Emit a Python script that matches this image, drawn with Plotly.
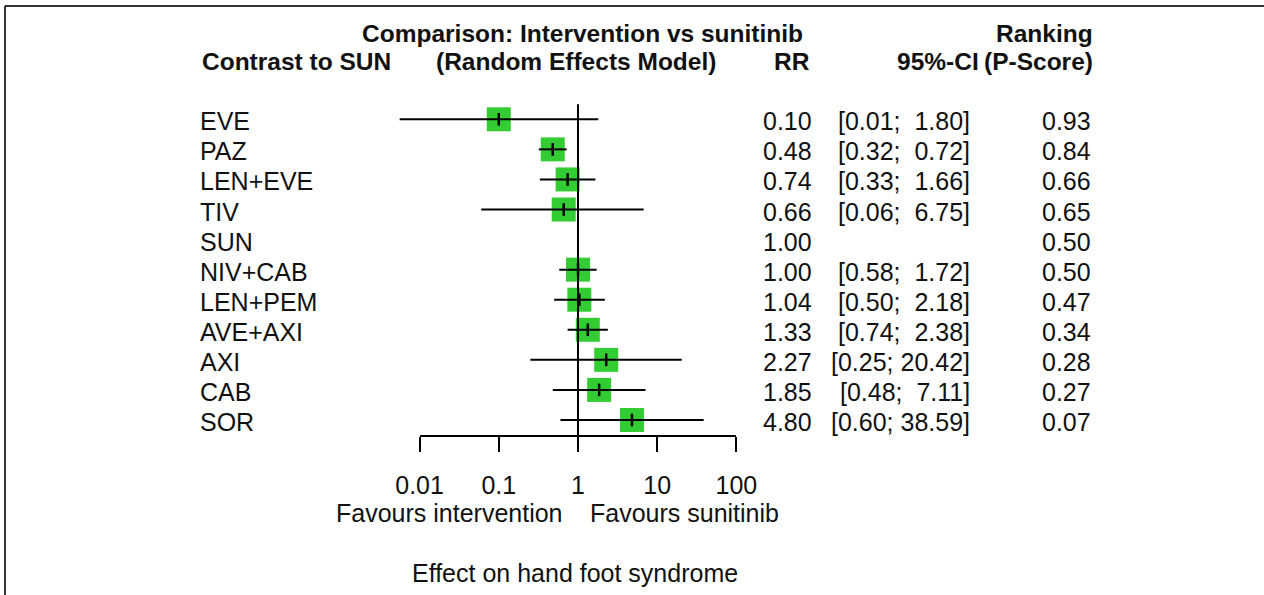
import plotly.graph_objects as go

# ---- data -------------------------------------------------------------
treatments = ["EVE", "PAZ", "LEN+EVE", "TIV", "SUN", "NIV+CAB",
              "LEN+PEM", "AVE+AXI", "AXI", "CAB", "SOR"]
rr = [0.10, 0.48, 0.74, 0.66, 1.00, 1.00, 1.04, 1.33, 2.27, 1.85, 4.80]
ci_low = [0.0056, 0.32, 0.33, 0.06, None, 0.58, 0.50, 0.74, 0.25, 0.48, 0.60]
ci_high = [1.80, 0.72, 1.66, 6.75, None, 1.72, 2.18, 2.38, 20.42, 7.11, 38.59]
pscore = [0.93, 0.84, 0.66, 0.65, 0.50, 0.50, 0.47, 0.34, 0.28, 0.27, 0.07]
tick_vals = [0.01, 0.1, 1, 10, 100]
tick_text = ["0.01", "0.1", "1", "10", "100"]

# ---- geometry (pixels) -------------------------------------------------
W, H = 1264, 595
X_ONE = 578.0          # pixel column of RR = 1
DECADE = 79.2          # pixels per log10 unit
ROW0 = 119.3           # pixel row of the first treatment
STEP = 30.07           # pixels between rows

FONT = "Liberation Sans, Arial, sans-serif"
INK = "#111111"
FS = 25
FS_BOLD = 24.5
GREEN = "#33CC33"

n = len(treatments)
rows = list(range(n))


def px_x(p):
    return p / W


def px_y(p):
    return 1 - p / H


fig = go.Figure()

# squares for the point estimates
sq_x = [r for r, lo in zip(rr, ci_low) if lo is not None]
sq_y = [i for i, lo in zip(rows, ci_low) if lo is not None]
fig.add_trace(go.Scatter(
    x=sq_x, y=sq_y, mode="markers",
    marker=dict(symbol="square", size=24, color=GREEN, line=dict(width=0)),
    hoverinfo="skip"))

# line of no effect
fig.add_trace(go.Scatter(
    x=[1, 1], y=[rows[0] - 0.5, rows[-1] + 0.5], mode="lines",
    line=dict(color="black", width=2), hoverinfo="skip"))

# confidence intervals
lx, ly = [], []
for i, lo, hi in zip(rows, ci_low, ci_high):
    if lo is None:
        continue
    lx += [lo, hi, None]
    ly += [i, i, None]
fig.add_trace(go.Scatter(
    x=lx, y=ly, mode="lines",
    line=dict(color="black", width=2), hoverinfo="skip"))

# small tick at each estimate
fig.add_trace(go.Scatter(
    x=sq_x, y=sq_y, mode="markers",
    marker=dict(symbol="line-ns", size=9, line=dict(color="black", width=2.5)),
    hoverinfo="skip"))

# carrier trace for the labelled RR axis (its own transparent subplot)
fig.add_trace(go.Scatter(
    x=[1], y=[0], mode="markers", xaxis="x2", yaxis="y2",
    marker=dict(opacity=0), hoverinfo="skip"))

axis_px = ROW0 + STEP * (rows[-1] + 0.5)

fig.update_layout(
    width=W, height=H,
    margin=dict(l=0, r=0, t=0, b=0, autoexpand=False),
    paper_bgcolor="white", plot_bgcolor="rgba(0,0,0,0)",
    showlegend=False, hovermode=False,
    font=dict(family=FONT, color=INK, size=FS),
    xaxis=dict(type="log", domain=[0, 1],
               range=[(0 - X_ONE) / DECADE, (W - X_ONE) / DECADE],
               visible=False, fixedrange=True),
    yaxis=dict(domain=[0, 1],
               range=[(H - ROW0) / STEP, (0 - ROW0) / STEP],
               visible=False, fixedrange=True),
    xaxis2=dict(type="log", anchor="y2",
                domain=[px_x(X_ONE - 2 * DECADE), px_x(X_ONE + 2 * DECADE)],
                range=[-2, 2],
                showline=True, linecolor="black", linewidth=2,
                ticks="outside", ticklen=15, tickwidth=2, tickcolor="black",
                ticklabelstandoff=12,
                tickvals=tick_vals, ticktext=tick_text,
                tickfont=dict(size=FS, color=INK, family=FONT),
                showgrid=False, zeroline=False, fixedrange=True),
    yaxis2=dict(anchor="x2", domain=[px_y(axis_px), 1], range=[-1, 1],
                visible=False, fixedrange=True),
)


def text(s, x, y, anchor="left", bold=False, yref="paper", yshift=0):
    fig.add_annotation(
        text=f"<b>{s}</b>" if bold else s,
        x=px_x(x), xref="paper", y=y, yref=yref, yshift=yshift,
        xanchor=anchor, yanchor="middle", showarrow=False,
        font=dict(size=FS_BOLD if bold else FS, color=INK, family=FONT))


# header
text("Comparison: Intervention vs sunitinib", 582, px_y(33), "center", True)
text("Ranking", 1095, px_y(33), "right", True)
text("Contrast to SUN", 200, px_y(62), "left", True)
text("(Random Effects Model)", 576, px_y(62), "center", True)
text("RR", 812, px_y(62), "right", True)
text("95%-CI", 981, px_y(62), "right", True)
text("(P-Score)", 1095, px_y(62), "right", True)

# one line of text per treatment
for i, name, r, lo, hi, p in zip(rows, treatments, rr, ci_low, ci_high, pscore):
    text(name, 198, i, "left", yref="y", yshift=-2)
    text(f"{r:.2f}", 814, i, "right", yref="y", yshift=-2)
    if lo is not None:
        ci = f"[{lo:.2f}; {hi:5.2f}]".replace(" ", "\u00a0")
        text(ci, 972, i, "right", yref="y", yshift=-2)
    text(f"{p:.2f}", 1093, i, "right", yref="y", yshift=-2)

# axis captions
text("Favours intervention", 565, px_y(513), "right")
text("Favours sunitinib", 588, px_y(513), "left")
text("Effect on hand foot syndrome", 575, px_y(573), "center")

# frame
fig.add_shape(type="line", xref="paper", yref="paper",
              x0=px_x(5), x1=1, y0=px_y(6), y1=px_y(6),
              line=dict(color="#333333", width=2))
fig.add_shape(type="line", xref="paper", yref="paper",
              x0=px_x(5), x1=px_x(5), y0=px_y(6), y1=0,
              line=dict(color="#333333", width=2))

fig.write_html("out.html")
